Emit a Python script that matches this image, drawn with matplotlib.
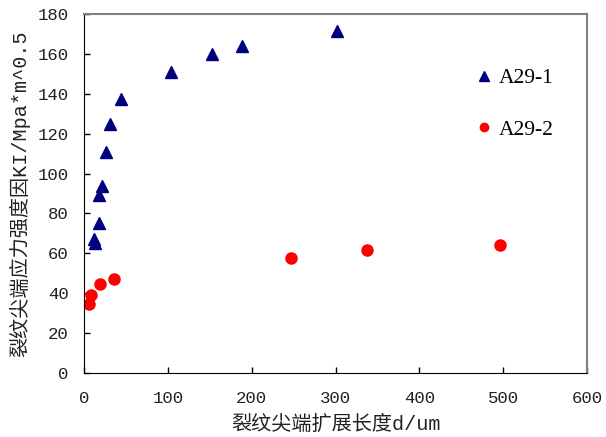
import numpy as np
import matplotlib
matplotlib.use("Agg")
from matplotlib import pyplot as plt

# data
a291_x = [12, 13, 18, 18, 22, 26, 31, 44, 104, 153, 188, 302]
a291_y = [67, 65, 75, 89, 94, 111, 125, 137.6, 151, 159.8, 163.8, 171.5]
a292_x = [5.5, 8.4, 18.7, 35.8, 247, 338, 496]
a292_y = [34.6, 39, 44.6, 47.3, 57.5, 61.8, 64.2]

x_ticks = [0, 100, 200, 300, 400, 500, 600]
y_ticks = [0, 20, 40, 60, 80, 100, 120, 140, 160, 180]

cjk = ['Liberation Mono', 'Noto Sans CJK SC']

fig = plt.figure(figsize=(6.06, 4.37), dpi=100)
ax = fig.add_axes([84 / 606, 1 - 373 / 437, (587 - 84) / 606, (373 - 14) / 437])

ax.plot(a291_x, a291_y, '^', color='#000080', markersize=9, label='A29-1', linestyle='none')
ax.plot(a292_x, a292_y, 'o', color='#ff0000', markersize=8, label='A29-2', linestyle='none')

ax.set_xlim(0, 600)
ax.set_ylim(0, 180)
ax.set_xticks(x_ticks)
ax.set_yticks(y_ticks)
ax.tick_params(direction='in', length=4, width=1, top=False, right=False)
ax.tick_params(axis='x', pad=13)
ax.tick_params(axis='y', pad=11)
for lab in ax.get_xticklabels() + ax.get_yticklabels():
    lab.set_family('Liberation Mono')
    lab.set_fontsize(12.5)
    lab.set_color('#222222')

ax.spines['top'].set_color('#808080')
ax.spines['right'].set_color('#808080')
ax.spines['top'].set_linewidth(1.5)
ax.spines['right'].set_linewidth(1.5)
ax.spines['left'].set_color('black')
ax.spines['bottom'].set_color('black')

ax.set_xlabel('裂纹尖端扩展长度d/um', family=cjk, fontsize=14.5, color='#222222', labelpad=6)
ax.set_ylabel('裂纹尖端应力强度因KI/Mpa*m^0.5', family=cjk, fontsize=14.5, color='#222222', labelpad=5)

leg = ax.legend(loc='upper left', bbox_to_anchor=(0.731, 1 - 34.6 / 359), frameon=False,
                prop={'family': 'Liberation Serif', 'size': 15.5}, labelspacing=1.47,
                handletextpad=0.1, handlelength=1.2, markerscale=0.75)

fig.savefig('out.png', dpi=100)
